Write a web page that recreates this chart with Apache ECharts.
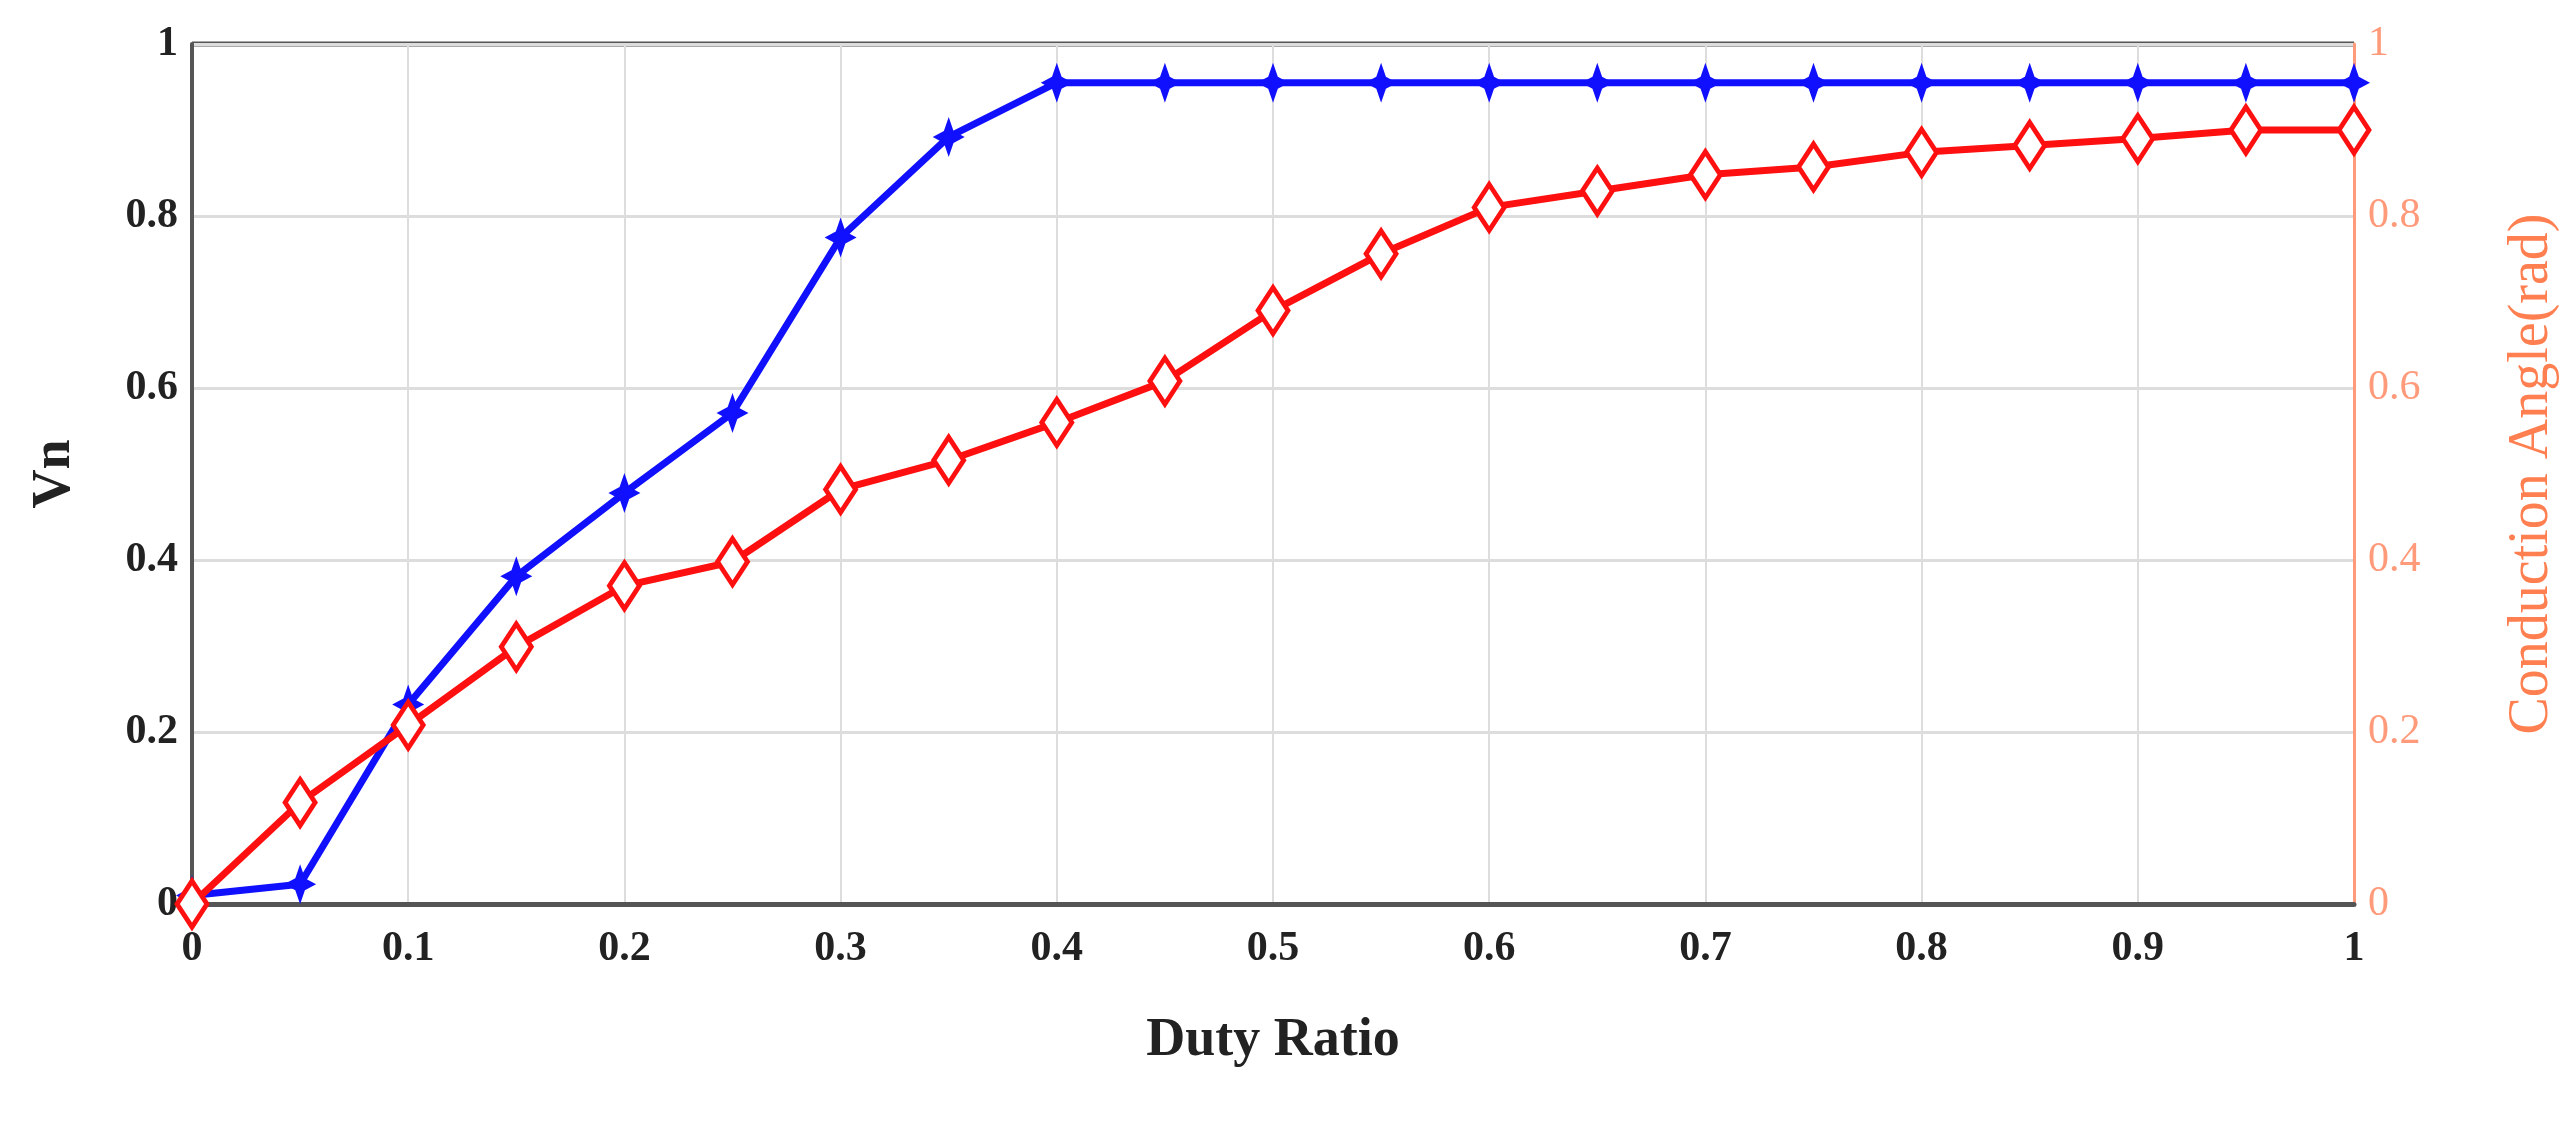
<!DOCTYPE html>
<html><head><meta charset="utf-8">
<script src="https://cdn.jsdelivr.net/npm/echarts@6/dist/echarts.min.js"></script>
<style>html,body{margin:0;padding:0;background:#fff}#c{width:2568px;height:1128px}</style>
</head><body><div id="c"></div>
<script>
const duty = [0,0.05,0.1,0.15,0.2,0.25,0.3,0.35,0.4,0.45,0.5,0.55,0.6,0.65,0.7,0.75,0.8,0.85,0.9,0.95,1];
const vn = [0.01,0.023,0.232,0.381,0.478,0.571,0.775,0.892,0.955,0.955,0.955,0.955,0.955,0.955,0.955,0.955,0.955,0.955,0.955,0.955,0.955];
const angle = [0,0.118,0.208,0.299,0.37,0.398,0.482,0.516,0.56,0.608,0.69,0.756,0.81,0.829,0.848,0.857,0.874,0.882,0.89,0.9,0.9];
const font = '"Liberation Serif", serif';
const chart = echarts.init(document.getElementById('c'));
chart.setOption({
  animation:false,
  grid:{left:192,right:214,top:44,bottom:224},
  xAxis:{type:'value',min:0,max:1,interval:0.1,name:'Duty Ratio',nameLocation:'middle',nameGap:110,
    nameTextStyle:{fontFamily:font,fontWeight:'bold',fontSize:54,color:'#222'},
    axisLine:{lineStyle:{color:'#555',width:5}},axisTick:{show:false},
    axisLabel:{fontFamily:font,fontWeight:'bold',fontSize:42,color:'#222',margin:24,formatter:v=>String(+v.toFixed(1))},
    splitLine:{show:true,lineStyle:{color:'#ddd',width:2}}},
  yAxis:[
    {type:'value',min:0,max:1,interval:0.2,name:'Vn',nameLocation:'middle',nameGap:110,
     nameTextStyle:{fontFamily:font,fontWeight:'bold',fontSize:54,color:'#222'},
     axisLine:{show:true,lineStyle:{color:'#555',width:4}},axisTick:{show:false},
     axisLabel:{fontFamily:font,fontWeight:'bold',fontSize:42,color:'#222',margin:14,formatter:v=>String(+v.toFixed(1))},
     splitLine:{show:true,lineStyle:{color:'#ddd',width:3}}},
    {type:'value',min:0,max:1,interval:0.2,position:'right',name:'Conduction Angle(rad)',nameLocation:'middle',nameGap:150,
     nameRotate:90,nameTextStyle:{fontFamily:font,fontSize:56,color:'#FF7F50'},
     axisLine:{show:true,lineStyle:{color:'#FF9A7A',width:3}},axisTick:{show:false},
     axisLabel:{fontFamily:font,fontSize:42,color:'#FF9A7A',margin:14,formatter:v=>String(+v.toFixed(1))},
     splitLine:{show:false}}
  ],
  series:[
    {type:'line',yAxisIndex:0,data:duty.map((d,i)=>[d,vn[i]]),symbol:'path://M0,-10L3,-3L10,0L3,3L0,10L-3,3L-10,0L-3,-3Z',symbolSize:[32,40],
     lineStyle:{color:'#1010ff',width:7},itemStyle:{color:'#1010ff'},z:3},
    {type:'line',yAxisIndex:1,data:duty.map((d,i)=>[d,angle[i]]),symbol:'diamond',symbolSize:[30,46],
     lineStyle:{color:'#ff1010',width:7},itemStyle:{color:'#fff',borderColor:'#ff1010',borderWidth:5},z:4}
  ],
  graphic:[{type:'line',shape:{x1:192,y1:44,x2:2354,y2:44},style:{stroke:'#555',lineWidth:5}}]
});
</script></body></html>
